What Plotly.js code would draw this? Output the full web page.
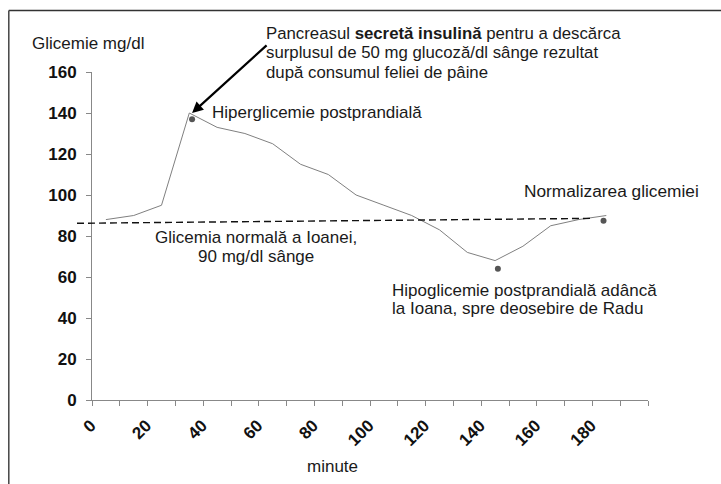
<!DOCTYPE html>
<html>
<head>
<meta charset="utf-8">
<script src="https://cdn.plot.ly/plotly-3.0.1.min.js"></script>
<style>html,body{margin:0;padding:0;background:#fff;}#chart{width:721px;height:484px;}</style>
</head>
<body>
<div id="chart"></div>
<script>
// Data
var minutes = [0, 10, 20, 30, 40, 50, 60, 70, 80, 90, 100, 110, 120, 130, 140, 150, 160, 170, 180];
var glucose = [88, 90, 95, 140, 133, 130, 125, 115, 110, 100, 95, 90, 83, 72, 68, 75, 85, 88, 90];
var dotMinutes = [31, 141, 179];
var dotGlucose = [137, 64, 87.5];
var normalY = [86.2, 88.6];
var xTickVals = [0, 20, 40, 60, 80, 100, 120, 140, 160, 180];
var xTickText = ['0', '20', '40', '60', '80', '100', '120', '140', '160', '180'];
var yTickVals = [0, 20, 40, 60, 80, 100, 120, 140, 160];

var W = 721, H = 484, L = 92, R = 73, T = 72, B = 84;
var pw = W - L - R, ph = H - T - B;
function PX(x) { return (x - L) / pw; }
function PY(y) { return (H - B - y) / ph; }

var font = 'Liberation Sans, Arial, sans-serif';
var txt = '#1a1a1a';
var FS = 17;

var traces = [
  {x: minutes, y: glucose, type: 'scatter', mode: 'lines',
   line: {color: '#808080', width: 1}, hoverinfo: 'skip'},
  {x: dotMinutes, y: dotGlucose, type: 'scatter', mode: 'markers',
   marker: {color: '#555555', size: 6}, cliponaxis: false, hoverinfo: 'skip'}
];

var ann = function (x, y, text, opts) {
  var a = {xref: 'paper', yref: 'paper', x: PX(x), y: PY(y), text: text, showarrow: false,
    xanchor: 'left', yanchor: 'middle', align: 'left', borderpad: 0,
    font: {family: font, size: FS, color: txt}};
  for (var k in opts) a[k] = opts[k];
  return a;
};

var layout = {
  width: W, height: H,
  margin: {l: L, r: R, t: T, b: B, pad: 0},
  paper_bgcolor: '#ffffff', plot_bgcolor: '#ffffff',
  showlegend: false,
  font: {family: font, color: txt},
  xaxis: {
    range: [-5, 195], tickmode: 'array', tickvals: xTickVals, ticktext: xTickText,
    ticks: '', tickangle: -45, tickfont: {family: font, size: 17, color: '#111', weight: 'bold'},
    ticklabelshift: -15, ticklabelstandoff: 8,
    showline: true, linecolor: '#888888', linewidth: 1, showgrid: false, zeroline: false,
    minor: {tick0: -5, dtick: 10, ticks: 'outside', ticklen: 5, tickcolor: '#888888', tickwidth: 1, showgrid: false}
  },
  yaxis: {
    range: [0, 160], tickmode: 'array', tickvals: yTickVals,
    ticks: 'outside', ticklen: 5, tickcolor: '#888888', tickwidth: 1,
    tickfont: {family: font, size: 17, color: '#111', weight: 'bold'},
    ticklabelstandoff: 6,
    showline: true, linecolor: '#888888', linewidth: 1, showgrid: false, zeroline: false
  },
  shapes: [
    {type: 'line', xref: 'paper', yref: 'paper', x0: PX(8.8), y0: PY(10.5), x1: PX(760), y1: PY(10.5),
     line: {color: '#333333', width: 1.5}},
    {type: 'line', xref: 'paper', yref: 'paper', x0: PX(8.8), y0: PY(10.5), x1: PX(8.8), y1: PY(520),
     line: {color: '#444444', width: 1.5}},
    {type: 'line', xref: 'paper', yref: 'y', x0: PX(77), x1: PX(593), y0: normalY[0], y1: normalY[1],
     line: {color: '#111111', width: 1.4, dash: '7px,4px'}}
  ],
  annotations: [
    ann(31, 44, 'Glicemie mg/dl'),
    ann(265, 33, 'Pancreasul <b>secretă insulină</b> pentru a descărca', {font: {family: font, size: 16.8, color: txt}}),
    ann(265, 52.5, 'surplusul de 50 mg glucoză/dl sânge rezultat', {font: {family: font, size: 16.8, color: txt}}),
    ann(265, 72, 'după consumul feliei de pâine', {font: {family: font, size: 16.8, color: txt}}),
    ann(211, 112, 'Hiperglicemie postprandială'),
    ann(523, 191, 'Normalizarea glicemiei', {font: {family: font, size: 17.3, color: txt}}),
    ann(256, 237.5, 'Glicemia normală a Ioanei,', {xanchor: 'center'}),
    ann(256, 256, '90 mg/dl sânge', {xanchor: 'center'}),
    ann(391, 290, 'Hipoglicemie postprandială adâncă'),
    ann(391, 308.5, 'la Ioana, spre deosebire de Radu'),
    ann(332, 466, 'minute', {xanchor: 'center'}),
    {xref: 'x', yref: 'y', x: 31, y: 140, axref: 'pixel', ayref: 'pixel', ax: 76, ay: -69,
     showarrow: true, arrowhead: 2, arrowsize: 1, arrowwidth: 2.2, arrowcolor: '#000000', text: ''}
  ]
};

Plotly.newPlot('chart', traces, layout, {staticPlot: true, displayModeBar: false});
</script>
</body>
</html>
